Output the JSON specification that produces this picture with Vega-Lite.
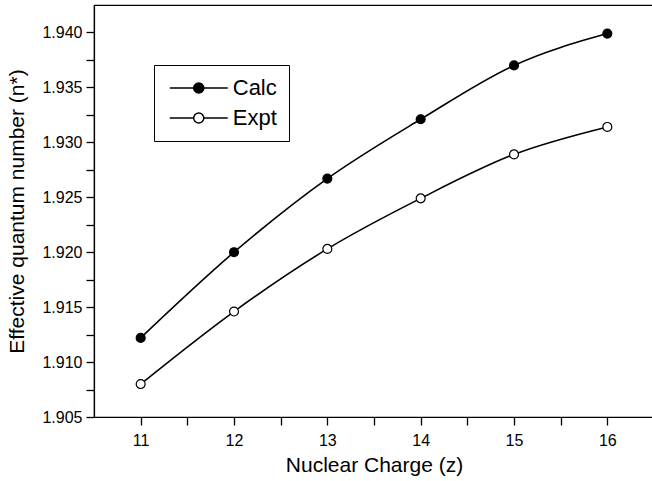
{
  "$schema": "https://vega.github.io/schema/vega-lite/v6.json",
  "autosize": {"type": "none"},
  "padding": {"left": 94, "top": 5, "right": 0, "bottom": 64},
  "width": 560,
  "height": 412,
  "background": "white",
  "config": {
    "font": "Liberation Sans",
    "view": {"stroke": "black", "strokeWidth": 1.2},
    "axis": {"grid": false, "zindex": 1, "labelOverlap": false, "domainColor": "black", "tickColor": "black", "labelColor": "black", "titleColor": "black", "labelFont": "Liberation Sans", "titleFont": "Liberation Sans", "titleFontWeight": "normal", "labelFontSize": 16, "titleFontSize": 21, "tickWidth": 1.3, "domainWidth": 1.2}
  },
  "data": {
    "values": [
      {"z": 11, "n": 1.9122, "series": "Calc"},
      {"z": 12, "n": 1.9200, "series": "Calc"},
      {"z": 13, "n": 1.9267, "series": "Calc"},
      {"z": 14, "n": 1.9321, "series": "Calc"},
      {"z": 15, "n": 1.9370, "series": "Calc"},
      {"z": 16, "n": 1.9399, "series": "Calc"},
      {"z": 11, "n": 1.9080, "series": "Expt"},
      {"z": 12, "n": 1.9146, "series": "Expt"},
      {"z": 13, "n": 1.9203, "series": "Expt"},
      {"z": 14, "n": 1.9249, "series": "Expt"},
      {"z": 15, "n": 1.9289, "series": "Expt"},
      {"z": 16, "n": 1.9314, "series": "Expt"}
    ]
  },
  "encoding": {
    "x": {"field": "z", "type": "quantitative", "scale": {"domain": [10.5, 16.5], "nice": false, "zero": false},
      "axis": {"orient": "bottom", "values": [11, 11.5, 12, 12.5, 13, 13.5, 14, 14.5, 15, 15.5, 16], "labelExpr": "datum.value % 1 === 0 ? format(datum.value, 'd') : ''",
        "tickSize": 8, "labelPadding": 7, "title": "Nuclear Charge (z)", "titlePadding": 6,
        "encoding": {"ticks": {"update": {"y2": {"signal": "datum.value % 1 === 0 ? -8 : -5"}}}}}},
    "y": {"field": "n", "type": "quantitative", "scale": {"domain": [1.905, 1.9425], "nice": false, "zero": false},
      "axis": {"orient": "left", "values": [1.905, 1.9075, 1.91, 1.9125, 1.915, 1.9175, 1.92, 1.9225, 1.925, 1.9275, 1.93, 1.9325, 1.935, 1.9375, 1.94],
        "labelExpr": "round(datum.value * 1000) % 5 === 0 ? format(datum.value, '.3f') : ''",
        "tickSize": 8, "labelPadding": 4, "title": "Effective quantum number (n*)", "titlePadding": 14,
        "encoding": {"ticks": {"update": {"x2": {"signal": "round(datum.value * 1000) % 5 === 0 ? 8 : 5"}}}}}}
  },
  "layer": [
    {
      "mark": {"type": "line", "interpolate": "monotone", "color": "black", "strokeWidth": 1.6},
      "encoding": {"detail": {"field": "series"}}
    },
    {
      "mark": {"type": "point", "filled": false, "stroke": "black", "strokeWidth": 1.2, "size": 80, "opacity": 1},
      "encoding": {
        "fill": {"field": "series", "type": "nominal", "scale": {"domain": ["Calc", "Expt"], "range": ["black", "white"]},
          "legend": {"title": null, "orient": "none", "legendX": 60, "legendY": 60, "strokeColor": "black", "padding": 12, "fillColor": "white",
            "symbolType": "M-4,0H-0.7 M0.7,0H4 M-0.7,0A0.7,0.7 0 1,0 0.7,0A0.7,0.7 0 1,0 -0.7,0Z",
            "symbolSize": 210, "symbolStrokeColor": "black", "symbolStrokeWidth": 1.5, "symbolOffset": 21.75, "labelOffset": 23,
            "labelFontSize": 22, "labelFont": "Liberation Sans", "labelColor": "black", "rowPadding": 8}}
      }
    }
  ]
}
